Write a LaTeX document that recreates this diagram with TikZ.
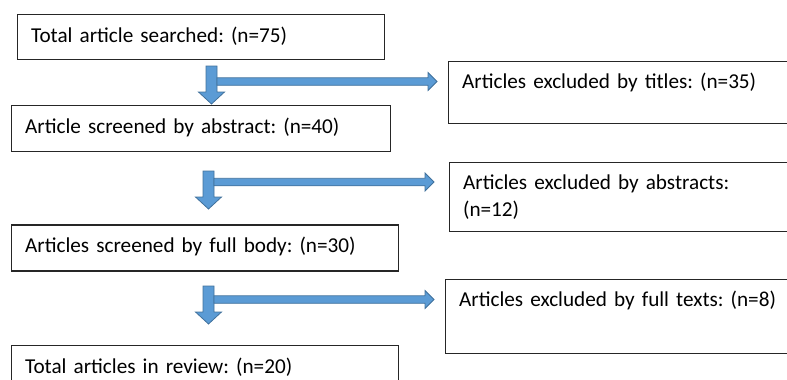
\documentclass[tikz,border=0pt]{standalone}
\usepackage{fontspec}
\setmainfont{Carlito}
\usetikzlibrary{positioning}
\definecolor{flowfill}{HTML}{5B9BD5}
\definecolor{flowline}{HTML}{41719C}
\frenchspacing
\tikzset{
	stagebox/.style={draw=black!85,line width=1.2pt,anchor=north west,inner xsep=13.5pt,inner ysep=0pt,align=left,font=\fontsize{21.2}{26.5}\selectfont},
	pics/forkarrow/.style={code={
		\filldraw[fill=flowfill,draw=flowline,line width=.8pt] (-5.5,0) -- (5.5,0) -- (5.5,26) -- (13,26) -- (0,38) -- (-13,26) -- (-5.5,26) -- cycle;
		\filldraw[fill=flowfill,draw=flowline,line width=.8pt] (5.5,#1-3.75) -- (216.5,#1-3.75) -- (216.5,#1-9) -- (225.5,#1) -- (216.5,#1+9) -- (216.5,#1+3.75) -- (5.5,#1+3.75) -- cycle;
	}}
}
\begin{document}
\begin{tikzpicture}[x=1pt,y=-1pt]
	\useasboundingbox (0,0) rectangle (787,380);
	%
	\node[stagebox,text width=340pt,text height=27.5pt,text depth=17.5pt] (searched) at (17,14) {Total article searched: (n=75)};
	\node[stagebox,text width=352pt,text height=27.5pt,text depth=18.5pt,below right=45pt and -6pt of searched.south west,anchor=north west] (abstract) {Article screened by abstract: (n=40)};
	\node[stagebox,text width=360pt,text height=27.5pt,text depth=18.5pt,below=72pt of abstract.south west,anchor=north west] (fullbody) {Articles screened by full body: (n=30)};
	\node[stagebox,text width=360pt,text height=28pt,text depth=24pt,below=73pt of fullbody.south west,anchor=north west] (review) {Total articles in review: (n=20)};
	%
	\node[stagebox,text width=333pt,text height=26.5pt,text depth=35.5pt] (byTitle) at (448,61) {Articles excluded by titles: (n=35)};
	\node[stagebox,text width=333pt,text height=27pt,text depth=42pt] (byAbstract) at (449,162) {Articles excluded by abstracts:\\(n=12)};
	\node[stagebox,text width=333pt,text height=27pt,text depth=47pt] (byFull) at (445,279) {Articles excluded by full texts: (n=8)};
	%
	\coordinate (fork1) at (211.5,66);
	\coordinate (fork2) at (208.5,171);
	\coordinate (fork3) at (208.5,286);
	%
	\pic at (fork1) {forkarrow=15.5};
	\pic at (fork2) {forkarrow=11};
	\pic at (fork3) {forkarrow=13.5};
	%
\end{tikzpicture}
\end{document}
